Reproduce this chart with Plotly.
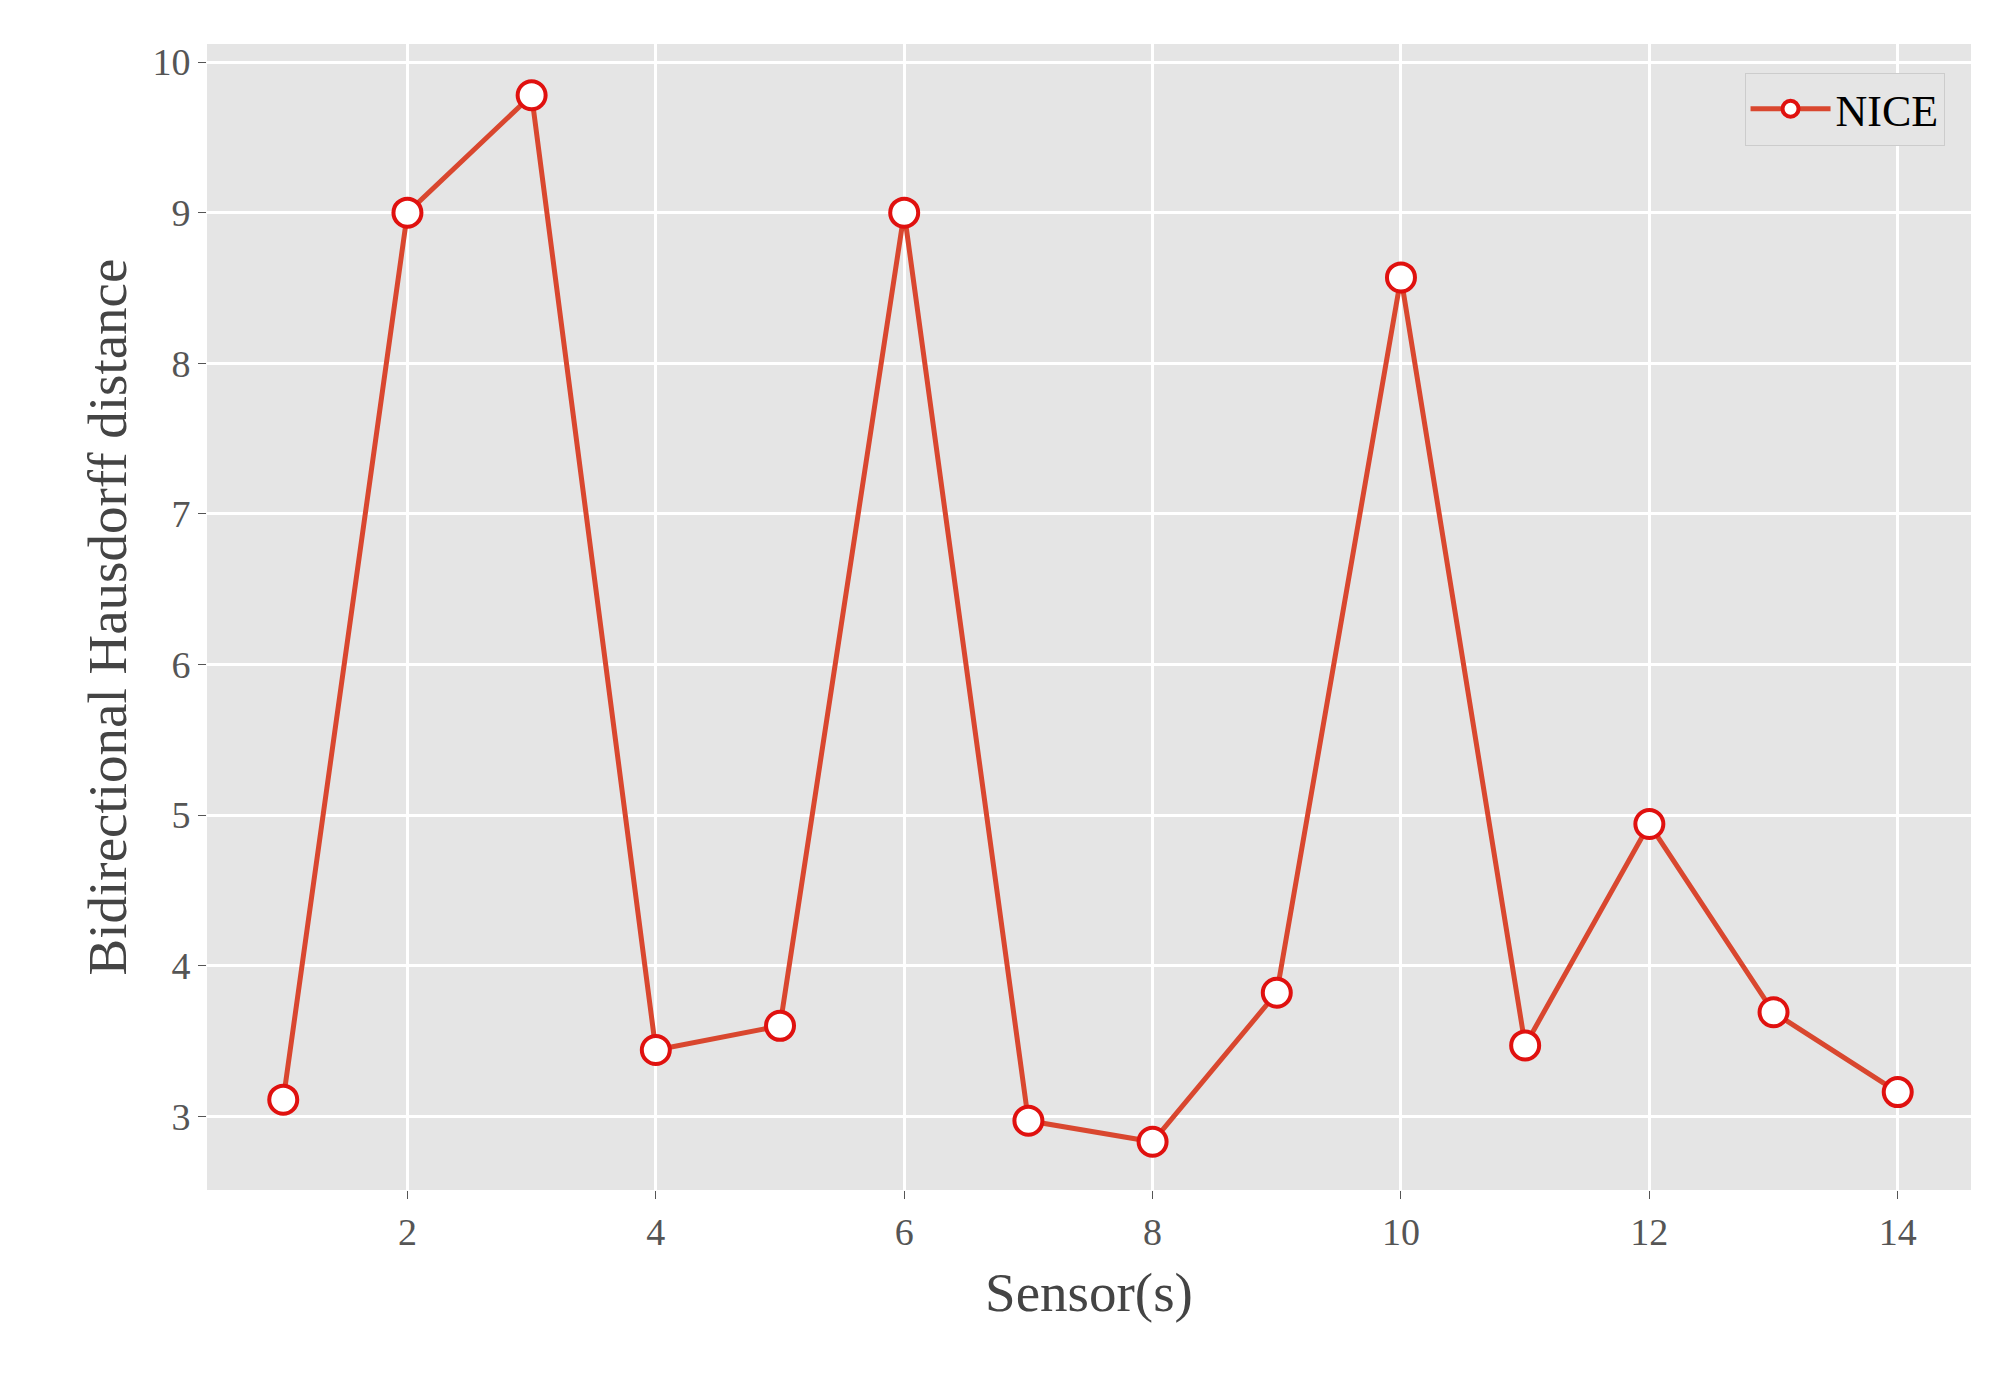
import plotly.graph_objects as go

sensors = list(range(1, 15))
nice = [3.11, 9.0, 9.78, 3.44, 3.6, 9.0, 2.97, 2.83, 3.82, 8.57, 3.47, 4.94, 3.69, 3.16]

fig = go.Figure(go.Scatter(
    x=sensors, y=nice, mode="lines+markers", name="NICE",
    line=dict(color="#d9472f", width=5),
    marker=dict(size=28, color="white", line=dict(color="#e0110f", width=4)),
))
font = "Liberation Serif"
fig.update_layout(
    width=1989, height=1374, paper_bgcolor="white", plot_bgcolor="#e5e5e5",
    margin=dict(l=199, r=26, t=36, b=192),
    font=dict(family=font, color="#555555", size=38),
    showlegend=True,
    legend=dict(x=0.985, y=0.975, xanchor="right", yanchor="top",
                bgcolor="#e5e5e5", bordercolor="#cccccc", borderwidth=1,
                itemwidth=80, font=dict(size=44, color="black")),
)
fig.update_xaxes(range=[0.386, 14.59], tickvals=[2, 4, 6, 8, 10, 12, 14],
                 gridcolor="white", gridwidth=2.5, zeroline=False,
                 ticks="outside", ticklen=8, tickcolor="#555555",
                 title=dict(text="Sensor(s)", font=dict(size=55, color="#444444"), standoff=20))
fig.update_yaxes(range=[2.51, 10.12], tickvals=list(range(3, 11)),
                 gridcolor="white", gridwidth=2.5, zeroline=False,
                 ticks="outside", ticklen=8, tickcolor="#555555",
                 title=dict(text="Bidirectional Hausdorff distance", font=dict(size=55, color="#444444"), standoff=8))
fig.write_html("out.html")
